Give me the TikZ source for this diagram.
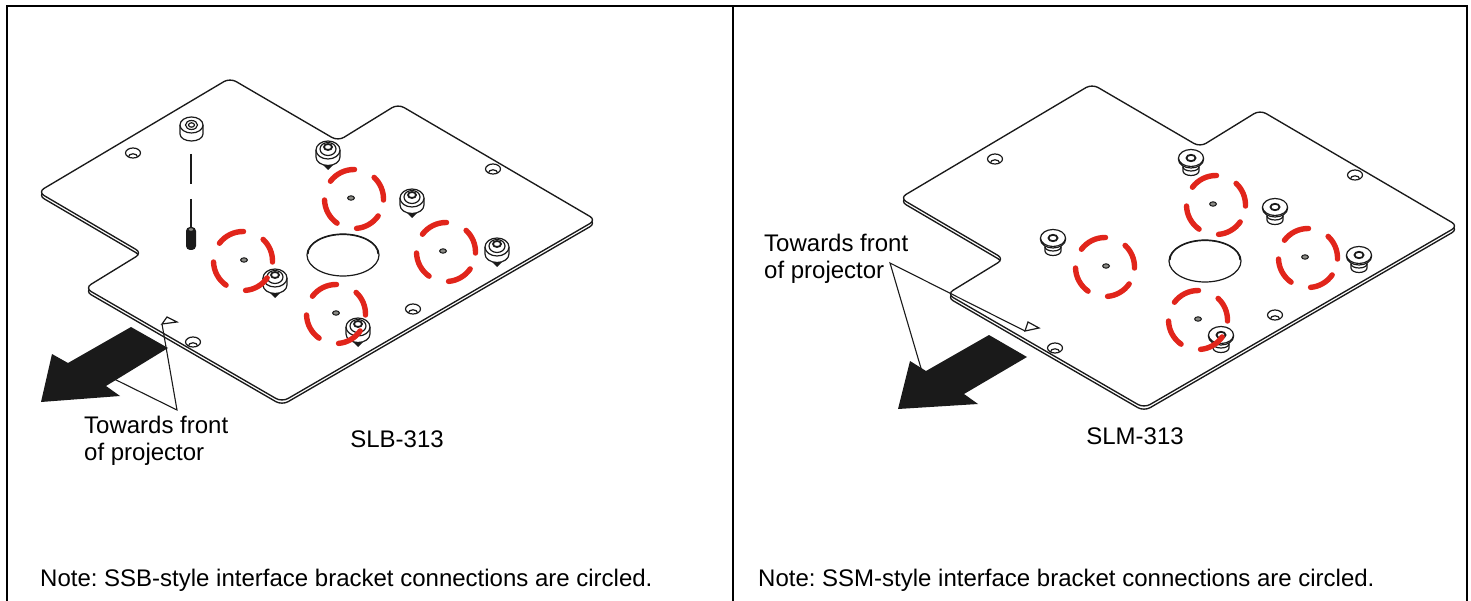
\documentclass[tikz,border=0pt]{standalone}
\usepackage{fontspec}
\setmainfont{Liberation Sans}
\frenchspacing
\definecolor{redmark}{HTML}{E1251B}
\definecolor{ink}{HTML}{1A1A1A}
\definecolor{pilot}{HTML}{8A8A85}
\tikzset{
  x=1pt,y=-1pt,
  frameline/.style={line width=2pt,black},
  plateline/.style={line width=1.35pt,draw=ink,fill=white,rounded corners=7pt,line join=round},
  partline/.style={line width=1.2pt,ink},
  thinline/.style={line width=1.1pt,ink},
  redarc/.style={line width=5.4pt,redmark,line cap=round},
  bigarrow/.style={fill=ink,draw=none},
  label/.style={font=\fontsize{24}{27}\selectfont,anchor=base west,inner sep=0pt,text=black,align=left},
  pics/plate/.style={code={
    \path[plateline,shift={(0,3.2)}] (38,192) -- (230,78) -- (338,141) -- (398,104) -- (596,220) -- (282,402) -- (85,288) -- (142,253) -- cycle;
    \path[plateline] (38,192) -- (230,78) -- (338,141) -- (398,104) -- (596,220) -- (282,402) -- (85,288) -- (142,253) -- cycle;
    % large hole
    \draw[partline,fill=white] (343,255) ellipse [x radius=36,y radius=21];
    \draw[partline] (308,254) arc[start angle=180,end angle=360,x radius=35,y radius=19.5];
    % countersunk holes
    \foreach \hx/\hy in {133/153,493/169,413/309,193/342}{
      \draw[partline,fill=white] (\hx,\hy) ellipse [x radius=7.5,y radius=5];
      \draw[partline] (\hx-4.5,\hy+3.8) arc[start angle=180,end angle=360,x radius=4.5,y radius=3];
    }
    % pilot holes
    \foreach \hx/\hy in {351/198,443/251,336/313,244/260}{
      \draw[line width=1pt,ink,fill=pilot] (\hx,\hy) ellipse [x radius=3.4,y radius=2.2];
    }
  }},
  pics/bumper/.style={code={
    \fill[ink] (-6,15) -- (0,21) -- (6,15) -- cycle;
    \draw[partline,fill=white] (-12,1) -- (-12,8) arc[start angle=180,end angle=0,x radius=12,y radius=8.5] -- (12,1);
    \draw[partline,fill=white] (0,1) ellipse [x radius=12,y radius=9];
    \draw[partline] (0,0) ellipse [x radius=8,y radius=6.5];
    \draw[line width=1.8pt,ink] (0,-2) ellipse [x radius=4,y radius=3];
  }},
  pics/flange/.style={code={
    \draw[partline,fill=white] (-8,3) -- (-8,13) arc[start angle=180,end angle=0,x radius=8,y radius=4.5] -- (8,3);
    \draw[partline] (-8,9) arc[start angle=180,end angle=0,x radius=8,y radius=4];
    \draw[partline,fill=white] (-12.5,0) -- (-12.5,1.5) arc[start angle=180,end angle=0,x radius=12.5,y radius=8.5] -- (12.5,0);
    \draw[partline,fill=white] (0,0) ellipse [x radius=12.5,y radius=8.5];
    \draw[line width=1.8pt,ink] (0,0) ellipse [x radius=4.5,y radius=3.2];
  }},
  pics/marks/.style={code={
    \foreach \cx/\cy in {354/199,446/252,336/314,243/261}{
      \draw[redarc] (\cx,\cy) ++(89:29.5 and -29.5) arc[start angle=-89,end angle=-143,radius=29.5];
      \draw[redarc] (\cx,\cy) ++(47:29.5 and -29.5) arc[start angle=-47,end angle=2,radius=29.5];
      \draw[redarc] (\cx,\cy) ++(-35:29.5 and -29.5) arc[start angle=35,end angle=85,radius=29.5];
      \draw[redarc] (\cx,\cy) ++(235:29.5 and -29.5) arc[start angle=125,end angle=178,radius=29.5];
    }
  }}
}
\begin{document}
\begin{tikzpicture}
\useasboundingbox (0,0) rectangle (1471,601);
\fill[white] (0,0) rectangle (1471,601);
% frame
\draw[frameline] (7,601) -- (7,6) -- (1467,6) -- (1467,601);
\draw[frameline] (733,6) -- (733,601);

% left panel
\pic at (0,0) {plate};
\foreach \px/\py in {328/149,412/197,497/246,275/277,358/326}{ \pic at (\px,\py) {bumper}; }
% loose nut, dashed axis, stud
\draw[partline,fill=white] (180,125) -- (180,134) arc[start angle=180,end angle=0,x radius=11.5,y radius=7] -- (203,125);
\draw[partline,fill=white] (191.5,125) ellipse [x radius=11.5,y radius=8];
\draw[partline] (191.5,125) ellipse [x radius=6,y radius=4.5];
\draw[partline] (191.5,125) ellipse [x radius=3,y radius=2.2];
\coordinate (axisA) at (191,154);
\coordinate (axisB) at (191,184);
\coordinate (axisC) at (191,199);
\coordinate (axisD) at (191,228);
\draw[thinline] (axisA) -- (axisB);
\draw[thinline] (axisC) -- (axisD);
\fill[ink,rounded corners=4pt] (186,227) rectangle (196,250);
\fill[pilot] (191,229.5) ellipse [x radius=2.2,y radius=1.3];
\pic at (0,0) {marks};

\path[bigarrow] (131,327) -- (168,348) -- (106,386) -- (120,396) -- (41,402) -- (52,354) -- (68,363) -- cycle;
\coordinate (markL1) at (167,317);
\coordinate (markL2) at (177,322);
\coordinate (markL3) at (162,324);
\draw[partline,fill=white] (markL1) -- (markL2) -- (markL3) -- cycle;
\node[label] (towardsL) at (84,460) {Towards front\\of projector};
\coordinate (apexL) at (177,410);
\coordinate (arrowL) at (102,373);
\draw[thinline] (markL3) -- (apexL) -- (arrowL);
\node[label,anchor=base] (slb) at (397,447) {SLB-313};
\node[label] (noteL) at (40,586) {Note: SSB-style interface bracket connections are circled.};

% right panel
\begin{scope}[shift={(862,6)}]
\pic at (0,0) {plate};
\foreach \px/\py in {329/152,191/232,413/201,497/249,359/329}{ \pic at (\px,\py) {flange}; }
\pic at (0,0) {marks};
\end{scope}
\path[bigarrow] (989,335) -- (1027,357) -- (964,394) -- (978,404) -- (898,409) -- (910,361) -- (926,371) -- cycle;
\coordinate (markR1) at (1028,322);
\coordinate (markR2) at (1039,328);
\coordinate (markR3) at (1025,331);
\draw[partline,fill=white] (markR1) -- (markR2) -- (markR3) -- cycle;
\node[label] (towardsR) at (764,279) {Towards front\\of projector};
\coordinate (apexR) at (890,263);
\coordinate (arrowR) at (928,392);
\draw[thinline] (markR3) -- (apexR) -- (arrowR);
\node[label,anchor=base] (slm) at (1135,444) {SLM-313};
\node[label] (noteR) at (758,586) {Note: SSM-style interface bracket connections are circled.};
\end{tikzpicture}
\end{document}
